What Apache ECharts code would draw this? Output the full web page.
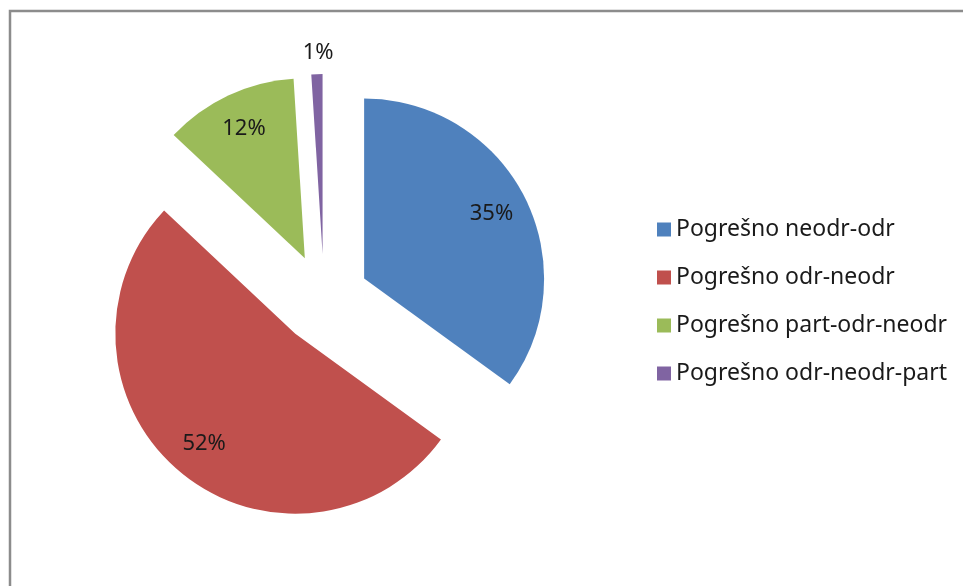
<!DOCTYPE html>
<html><head><meta charset="utf-8">
<script src="https://cdn.jsdelivr.net/npm/echarts@6/dist/echarts.min.js"></script>
<style>html,body{margin:0;padding:0;background:#fff}#c{width:963px;height:586px}</style>
</head><body><div id="c"></div>
<script>
const categories = ['Pogrešno neodr-odr', 'Pogrešno odr-neodr', 'Pogrešno part-odr-neodr', 'Pogrešno odr-neodr-part'];
const values = [35, 52, 12, 1];
const colors = ['#4F81BD', '#C0504D', '#9BBB59', '#8064A2'];

const FONT = 'Noto Sans';
const chart = echarts.init(document.getElementById('c'), null, {renderer: 'canvas'});

const mainData = categories.map((n, i) => ({
  name: n, value: values[i], selected: true,
  itemStyle: {color: colors[i]},
  select: {itemStyle: {color: colors[i], borderWidth: 0}}
}));
const labelData = categories.map((n, i) => ({
  name: n, value: values[i], selected: true,
  itemStyle: {color: 'rgba(0,0,0,0)'},
  select: {itemStyle: {color: 'rgba(0,0,0,0)', borderWidth: 0}},
  label: i === 3 ? {
    formatter: '{t|{c}%}\n{gap|}',
    rich: {
      t: {fontFamily: FONT, fontSize: 22, color: '#1a1a1a', lineHeight: 24},
      gap: {height: 116, lineHeight: 116}
    }
  } : {}
}));

chart.setOption({
  animation: false,
  color: colors,
  graphic: [{
    type: 'rect', silent: true,
    shape: {x: 10, y: 11, width: 1000, height: 700},
    style: {fill: 'none', stroke: '#8c8c8c', lineWidth: 2.5}
  }],
  legend: {
    orient: 'vertical', left: 652, top: 213,
    itemWidth: 14, itemHeight: 14, itemGap: 25,
    icon: 'rect',
    textStyle: {fontFamily: FONT, fontSize: 23, color: '#1a1a1a'},
    data: categories
  },
  series: [{
    type: 'pie', center: [324, 299], radius: [0, 180],
    selectedMode: 'multiple', selectedOffset: 45,
    startAngle: 90, clockwise: true,
    label: {show: false}, labelLine: {show: false},
    itemStyle: {borderWidth: 0},
    emphasis: {disabled: true},
    data: mainData
  }, {
    type: 'pie', center: [324, 299], radius: [100, 180],
    selectedMode: 'multiple', selectedOffset: 45,
    startAngle: 90, clockwise: true, silent: true,
    label: {show: true, position: 'inside', formatter: '{c}%', fontFamily: FONT, fontSize: 22, color: '#1a1a1a'},
    labelLine: {show: false},
    itemStyle: {borderWidth: 0},
    emphasis: {disabled: true},
    data: labelData
  }]
});
</script></body></html>
